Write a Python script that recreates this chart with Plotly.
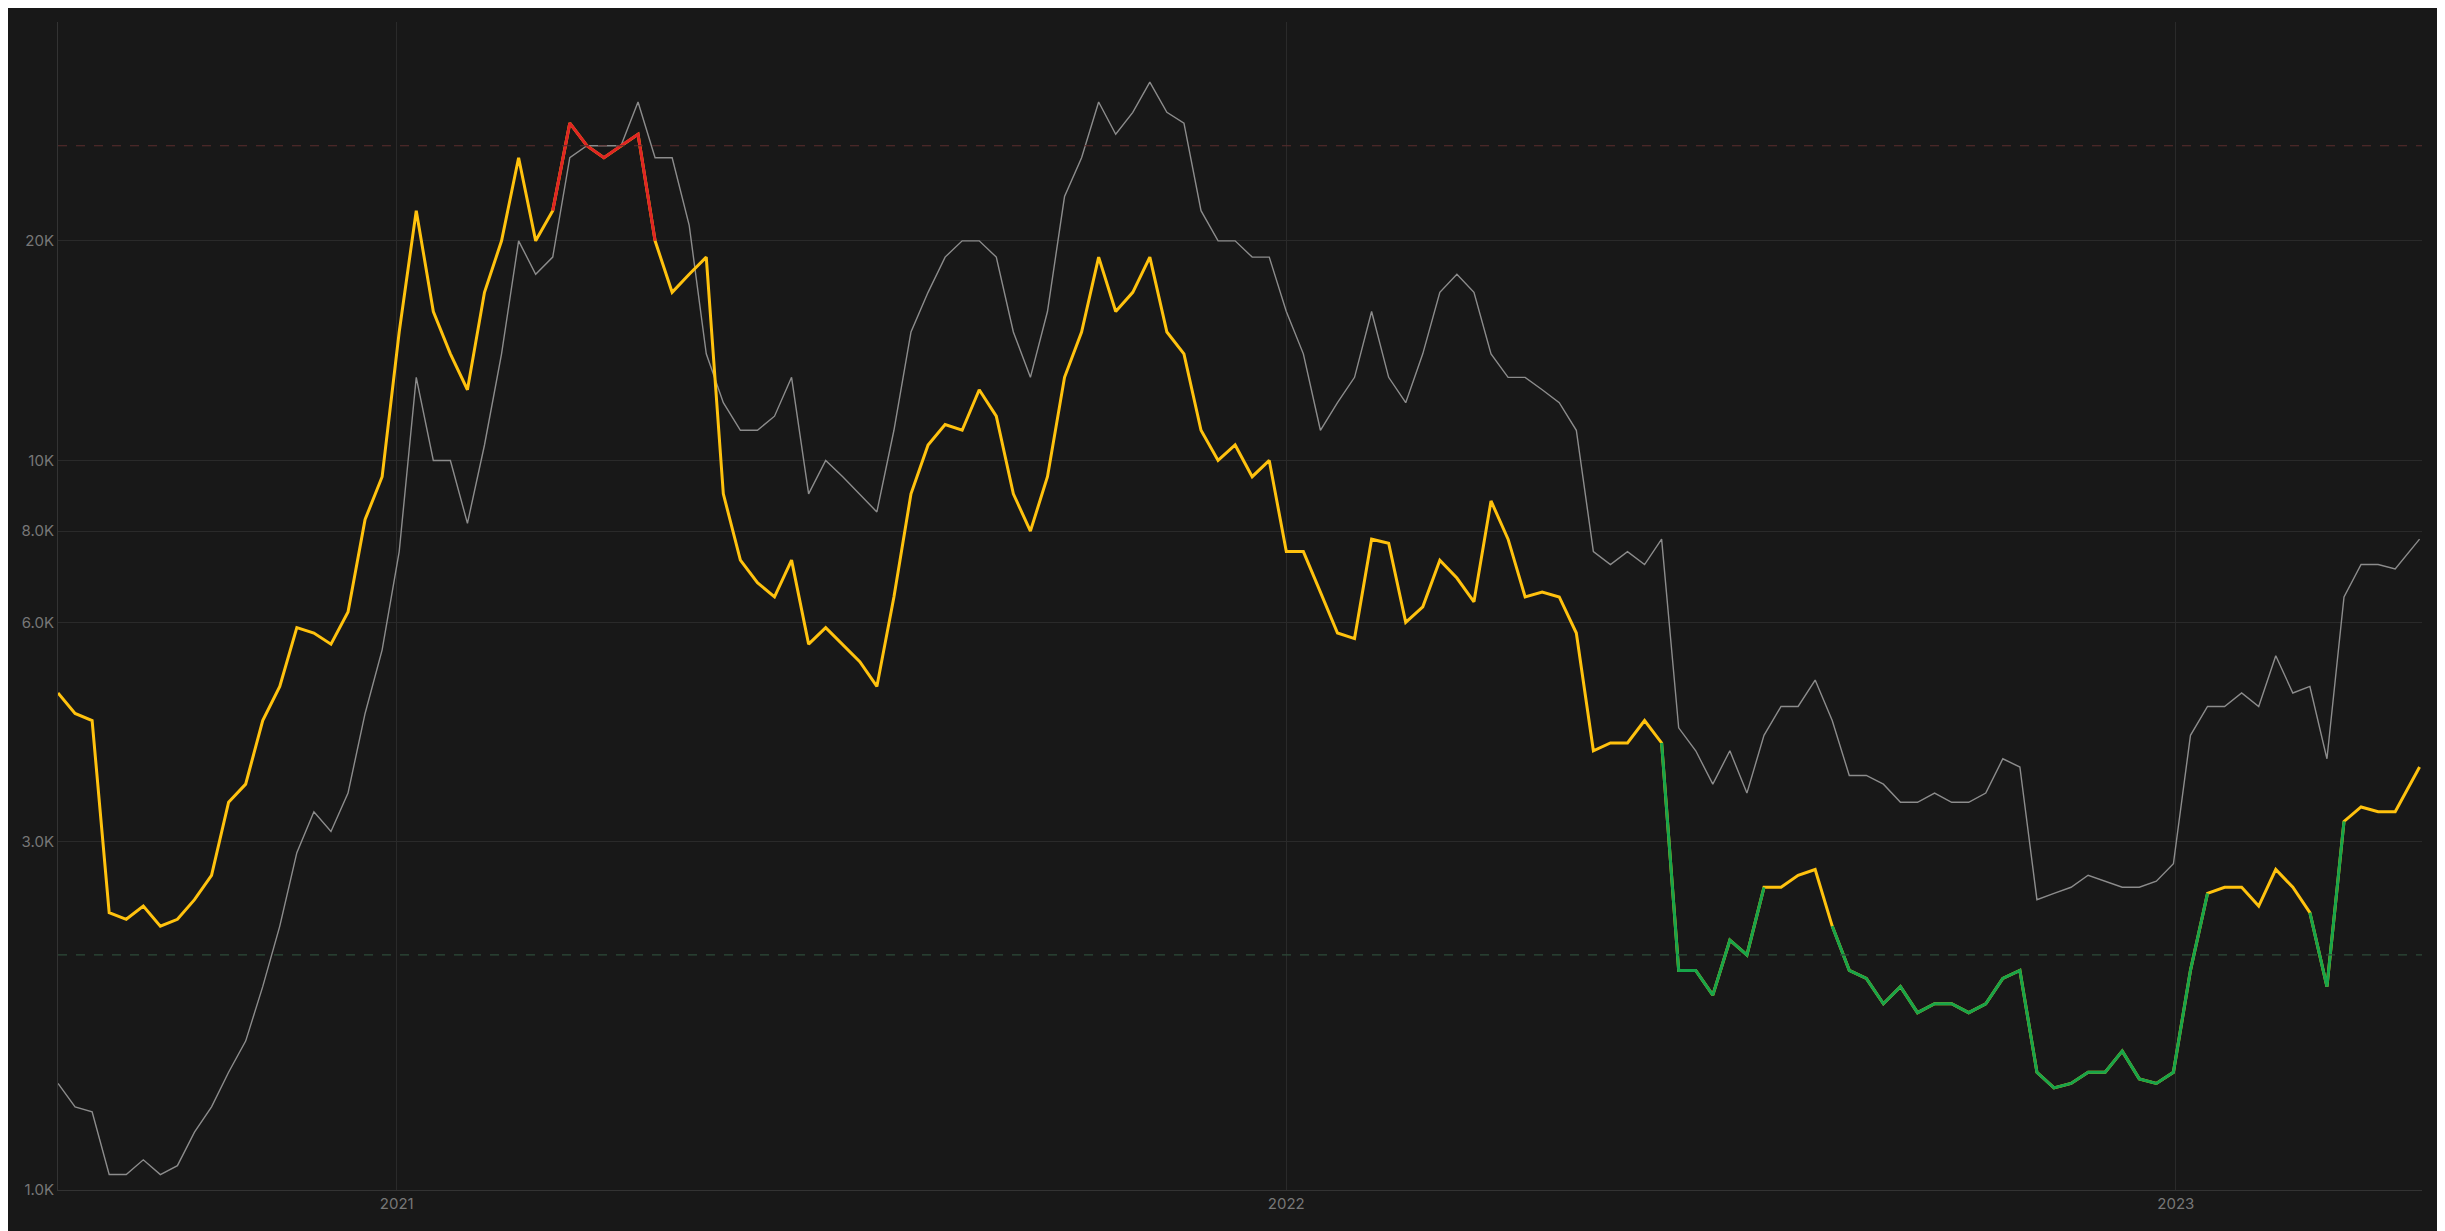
import plotly.graph_objects as go
import pandas as pd

start = "2020-08-15"
yellow_k = [4.8,4.5,4.4,2.4,2.35,2.45,2.3,2.35,2.5,2.7,3.4,3.6,4.4,4.9,5.9,5.8,5.6,6.2,8.3,9.5,
            15,22,16,14,12.5,17,20,26,20,22,29,27,26,27,28,20,17,18,19,9,
            7.3,6.8,6.5,7.3,5.6,5.9,5.6,5.3,4.9,6.5,9,10.5,11.2,11,12.5,11.5,9,8,9.5,13,
            15,19,16,17,19,15,14,11,10,10.5,9.5,10,7.5,7.5,6.6,5.8,5.7,7.8,7.7,6.0,
            6.3,7.3,6.9,6.4,8.8,7.8,6.5,6.6,6.5,5.8,4.0,4.1,4.1,4.4,4.1,2.0,2.0,1.85,2.2,2.1,
            2.6,2.6,2.7,2.75,2.3,2.0,1.95,1.8,1.9,1.75,1.8,1.8,1.75,1.8,1.95,2.0,1.45,1.38,1.4,1.45,
            1.45,1.55,1.42,1.40,1.45,2.0,2.55,2.6,2.6,2.45,2.75,2.6,2.4,1.9,3.2,3.35,3.3,3.3,3.8]
gray_k = [1.4,1.3,1.28,1.05,1.05,1.1,1.05,1.08,1.2,1.3,1.45,1.6,1.9,2.3,2.9,3.3,3.1,3.5,4.5,5.5,
          7.5,13,10,10,8.2,10.5,14,20,18,19,26,27,27,27,31,26,26,21,14,12,
          11,11,11.5,13,9,10,9.5,9,8.5,11,15,17,19,20,20,19,15,13,16,23,
          26,31,28,30,33,30,29,22,20,20,19,19,16,14,11,12,13,16,13,12,
          14,17,18,17,14,13,13,12.5,12,11,7.5,7.2,7.5,7.2,7.8,4.3,4.0,3.6,4.0,3.5,
          4.2,4.6,4.6,5.0,4.4,3.7,3.7,3.6,3.4,3.4,3.5,3.4,3.4,3.5,3.9,3.8,2.5,2.55,2.6,2.7,
          2.65,2.6,2.6,2.65,2.8,4.2,4.6,4.6,4.8,4.6,5.4,4.8,4.9,3.9,6.5,7.2,7.2,7.1,7.8]
upper_band = 27000
lower_band = 2100
tick_vals = [1000, 3000, 6000, 8000, 10000, 20000]
tick_text = ["1.0K", "3.0K", "6.0K", "8.0K", "10K", "20K"]

dates = list(pd.date_range(start, periods=len(yellow_k) - 1, freq="7D")) + [pd.Timestamp("2023-04-11")]
yellow = [v * 1000 for v in yellow_k]
gray = [v * 1000 for v in gray_k]

def seg(cond):
    out = []
    n = len(yellow)
    for i in range(n):
        keep = cond(yellow[i]) or (i > 0 and cond(yellow[i-1])) or (i < n-1 and cond(yellow[i+1]))
        out.append(yellow[i] if keep else None)
    return out

red = seg(lambda v: v >= upper_band)
green = seg(lambda v: v <= lower_band)

fig = go.Figure()
fig.add_trace(go.Scatter(x=dates, y=gray, mode="lines", line=dict(color="#8c8c8c", width=1.4)))
fig.add_trace(go.Scatter(x=dates, y=yellow, mode="lines", line=dict(color="#FFC20E", width=3)))
fig.add_trace(go.Scatter(x=dates, y=red, mode="lines", line=dict(color="#E02424", width=3), connectgaps=False))
fig.add_trace(go.Scatter(x=dates, y=green, mode="lines", line=dict(color="#17A54A", width=3), connectgaps=False))
fig.add_hline(y=upper_band, line=dict(color="#5a2c2c", width=1.2, dash="dash"))
fig.add_hline(y=lower_band, line=dict(color="#2c4a38", width=1.2, dash="dash"))

fig.update_layout(
    width=2445, height=1231, showlegend=False,
    paper_bgcolor="#181818", plot_bgcolor="#181818",
    margin=dict(l=50, r=31, t=14, b=49),
    font=dict(family="Inter, Roboto, sans-serif", color="#777777", size=15),
    xaxis=dict(range=["2020-08-15", "2023-04-12"], tickvals=["2021-01-01", "2022-01-01", "2023-01-01"],
               ticktext=["2021", "2022", "2023"], showgrid=True, gridcolor="#2a2a2a",
               showline=True, linecolor="#333333", zeroline=False, ticks=""),
    yaxis=dict(type="log", range=[3, 4.601], tickvals=tick_vals, ticktext=tick_text,
               showgrid=True, gridcolor="#2a2a2a", showline=True, linecolor="#333333",
               zeroline=False, ticks=""),
)
fig.write_html("out.html")
